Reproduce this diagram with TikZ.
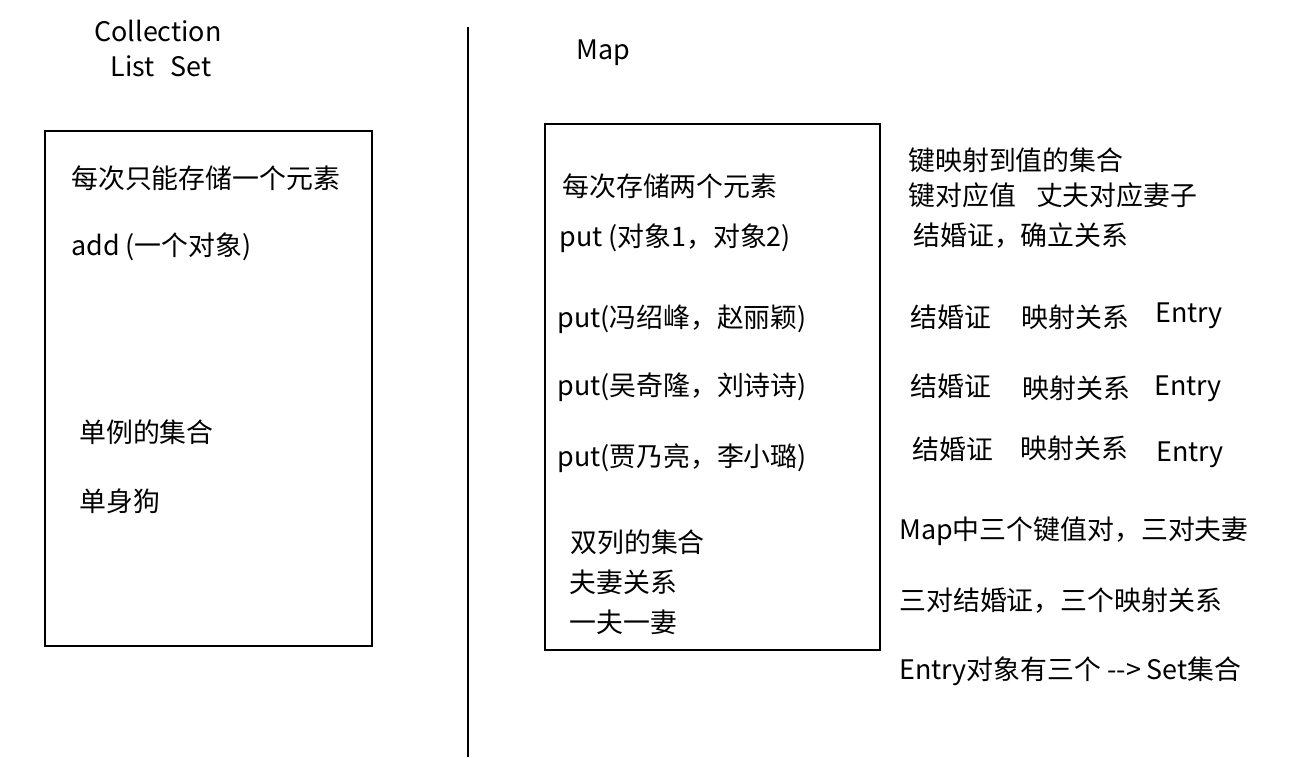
\documentclass[tikz,border=0pt]{standalone}
\usepackage{fontspec}
\setmainfont{Noto Sans CJK SC}
\usetikzlibrary{positioning}
\tikzset{
  txt/.style={anchor=west, inner sep=0pt, font=\fontsize{15.3}{18}\selectfont},
  title/.style={inner sep=0pt, font=\fontsize{15.3}{18}\selectfont},
  frame/.style={draw, semithick, rectangle, inner sep=0pt}
}
\begin{document}
\begin{tikzpicture}[x=0.02cm, y=-0.02cm]
  \useasboundingbox (0,0) rectangle (1315,758);

  % Headings
  \node [title] (collection) at (158,31) {Collection};
  \node [title] (listset) at (161,66) {List\hspace{0.6em}Set};
  \node [txt] (map) at (576,53) {Map};

  % Boxes
  \node [frame, minimum width=327*0.02cm, minimum height=515*0.02cm] (listbox) at (208.5,388.5) {};
  \node [frame, minimum width=335*0.02cm, minimum height=526*0.02cm] (mapbox) at (712.5,387) {};

  % Divider
  \coordinate (divtop) at (468,27);
  \coordinate (divbot) at (468,757);
  \draw [semithick] (divtop) -- (divbot);

  % Left box texts
  \node [txt] (once) at (71,178) {每次只能存储一个元素};
  \node [txt] (add) at (71,247) {add (一个对象)};
  \node [txt] (single) at (79,432) {单例的集合};
  \node [txt] (dog) at (79,501) {单身狗};

  % Right box texts
  \node [txt] (twice) at (562,186) {每次存储两个元素};
  \node [txt] (put) at (559,238) {put (对象1，对象2)};
  \node [txt] (put1) at (557,319) {put(冯绍峰，赵丽颖)};
  \node [txt] (put2) at (557,387) {put(吴奇隆，刘诗诗)};
  \node [txt] (put3) at (557,458) {put(贾乃亮，李小璐)};
  \node [txt] (double) at (570,542) {双列的集合};
  \node [txt] (couple) at (569,582) {夫妻关系};
  \node [txt] (mono) at (569,622) {一夫一妻};

  % Notes
  \node [txt] (keymap) at (908,160) {键映射到值的集合};
  \node [txt] (keyval) at (908,195) {键对应值\hspace{0.75em}丈夫对应妻子};
  \node [txt] (cert) at (913,236) {结婚证，确立关系};

  \node [txt] (cert1) at (910,317) {结婚证};
  \node [txt] (rel1) at (1021,317) {映射关系};
  \node [txt] (entry1) at (1155,316) {Entry};
  \node [txt] (cert2) at (910,386) {结婚证};
  \node [txt] (rel2) at (1022,388) {映射关系};
  \node [txt] (entry2) at (1154,389) {Entry};
  \node [txt] (cert3) at (912,449) {结婚证};
  \node [txt] (rel3) at (1020,448) {映射关系};
  \node [txt] (entry3) at (1156,455) {Entry};

  \node [txt] (pairs) at (899,531) {Map中三个键值对，三对夫妻};
  \node [txt] (certs) at (899,601) {三对结婚证，三个映射关系};
  \node [txt] (entryset) at (899,671) {Entry对象有三个 {-}{-}> Set集合};

\end{tikzpicture}
\end{document}
